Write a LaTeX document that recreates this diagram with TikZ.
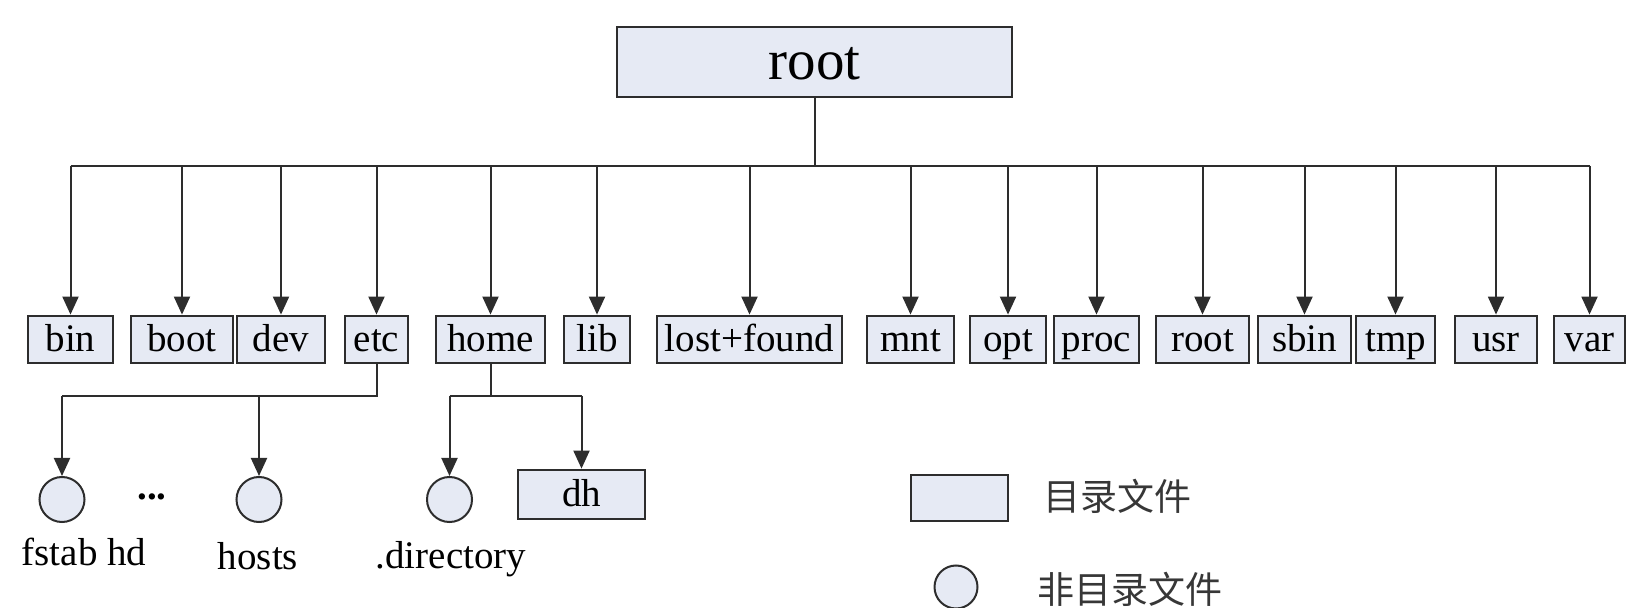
\documentclass[tikz,border=0pt]{standalone}
\usepackage{fontspec}
\setmainfont{Liberation Serif}
\newfontfamily\cjk{Noto Sans CJK SC}
\usetikzlibrary{arrows.meta}
\definecolor{boxfill}{RGB}{230,234,244}
\definecolor{edge}{RGB}{45,45,45}
\definecolor{cjkgray}{RGB}{55,55,55}
\begin{document}
\begin{tikzpicture}[x=0.5pt,y=-0.5pt,
  w/.style={minimum width=#1*0.5pt},
  dirbox/.style={draw=edge, line width=1.4pt, fill=boxfill, inner sep=0pt,
    minimum height=23.5pt, text height=12.5pt, text depth=0pt,
    font=\fontsize{19.5}{20}\selectfont},
  filecirc/.style={circle, draw=edge, line width=1pt, fill=boxfill, inner sep=0pt, minimum size=22.5pt},
  conn/.style={draw=edge, line width=1pt},
  arr/.style={conn, -{Triangle[width=8pt,length=9pt]}},
  lbl/.style={font=\fontsize{19.5}{20}\selectfont, anchor=base, inner sep=0pt},
  leg/.style={font=\cjk\fontsize{18.5}{19}\selectfont, anchor=west, inner sep=0pt, text=cjkgray},
]
\useasboundingbox (0,0) rectangle (1642,608);
% top
\node[dirbox, w=395, minimum height=35pt, text height=20pt, text depth=2pt,
  font=\fontsize{28.5}{30}\selectfont] (top) at (814.5,62) {root};
% first level
\node[dirbox, w=85]  (bin)  at (70.5,339.5) {bin};
\node[dirbox, w=102] (boot) at (182,339.5) {boot};
\node[dirbox, w=88]  (dev)  at (281,339.5) {dev};
\node[dirbox, w=63]  (etc)  at (376.5,339.5) {etc};
\node[dirbox, w=109] (home) at (490.5,339.5) {home};
\node[dirbox, w=66]  (lib)  at (597,339.5) {lib};
\node[dirbox, w=185] (lost) at (749.5,339.5) {lost+found};
\node[dirbox, w=87]  (mnt)  at (910.5,339.5) {mnt};
\node[dirbox, w=76]  (opt)  at (1008,339.5) {opt};
\node[dirbox, w=85]  (proc) at (1096.5,339.5) {proc};
\node[dirbox, w=93]  (rootdir) at (1202.5,339.5) {root};
\node[dirbox, w=93]  (sbin) at (1304.5,339.5) {sbin};
\node[dirbox, w=79]  (tmp)  at (1395.5,339.5) {tmp};
\node[dirbox, w=82]  (usr)  at (1496,339.5) {usr};
\node[dirbox, w=71]  (var)  at (1589.5,339.5) {var};
\coordinate (busA) at (0,166);
\draw[conn] (top.south) -- (top.south |- busA);
\draw[conn] (bin |- busA) -- (var |- busA);
\foreach \n in {bin,boot,dev,etc,home,lib,lost,mnt,opt,proc,rootdir,sbin,tmp,usr,var}
  \draw[arr] (\n |- busA) -- (\n);
% second level
\node[filecirc] (fstab) at (62,499.5) {};
\node[filecirc] (hosts) at (259,499.5) {};
\node[filecirc] (dirf) at (449.5,499.5) {};
\node[dirbox, w=127, minimum height=24.5pt] (dh) at (581.5,494.5) {dh};
\node[lbl] (lfstab) at (84,565) {fstab hd};
\node[lbl] (lhosts) at (258,569) {hosts};
\node[lbl] (ldirf) at (451,568) {.directory};
\node[lbl, font=\bfseries\fontsize{19.5}{20}\selectfont] (dots) at (152,500) {...};
\coordinate (busB) at (0,396);
\draw[conn] (etc.south) -- (etc.south |- busB) -- (fstab |- busB);
\draw[arr] (fstab |- busB) -- (fstab);
\draw[arr] (hosts |- busB) -- (hosts);
\draw[conn] (home.south) -- (home.south |- busB);
\draw[conn] (dirf |- busB) -- (dh |- busB);
\draw[arr] (dirf |- busB) -- (dirf);
\draw[arr] (dh |- busB) -- (dh);
% legend
\node[dirbox, w=97, minimum height=23pt] (legbox) at (959.5,498) {};
\node[leg] (legdir) at (1043,496) {目录文件};
\node[filecirc, minimum size=21.5pt] (legcirc) at (956,587) {};
\node[leg] (legfile) at (1037,589) {非目录文件};
\end{tikzpicture}
\end{document}
